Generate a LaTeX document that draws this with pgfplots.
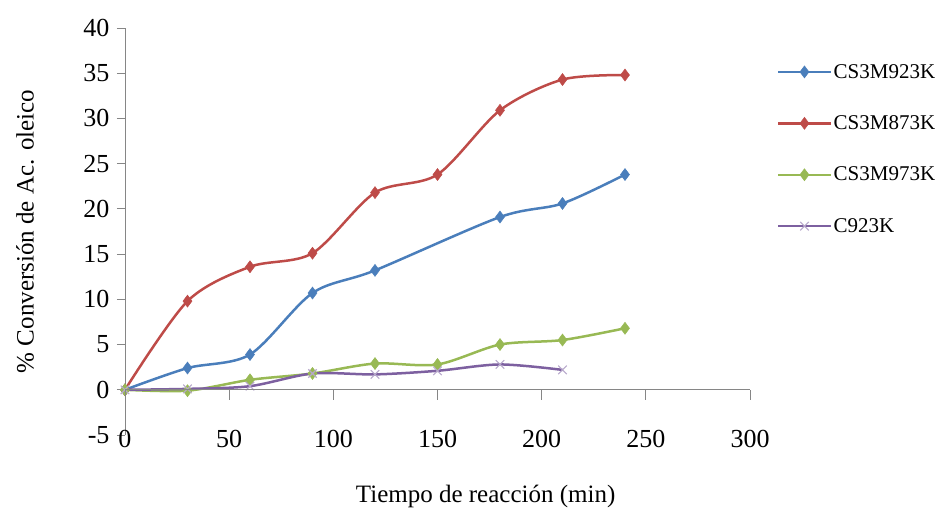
\documentclass[border=0pt]{standalone}
\usepackage{pgfplots}
\pgfplotsset{compat=1.18}
\usepackage{fontspec}
\setmainfont{Liberation Serif}
\definecolor{cblue}{HTML}{4A7EBB}
\definecolor{cred}{HTML}{BE4B48}
\definecolor{cgreen}{HTML}{98B954}
\definecolor{cpurple}{HTML}{7D60A0}
\definecolor{axisgray}{HTML}{868686}
\begin{document}
\begin{tikzpicture}
\useasboundingbox (-125pt,-76pt) rectangle (817pt,435pt);
\begin{axis}[
  scale only axis, width=625pt, height=407pt,
  at={(0pt,0pt)}, anchor=south west,
  xmin=0, xmax=300, ymin=-5, ymax=40,
  axis y line*=left, axis x line*=bottom,
  x axis line style={draw=none},
  y axis line style={draw=axisgray, line width=0.8pt},
  xtick={0,50,...,300}, ytick={-5,0,...,40},
  xtick style={draw=none},
  ytick style={draw=axisgray, line width=0.8pt},
  tick align=outside, major tick length=8pt,
  /pgf/number format/assume math mode=true,
  ticklabel style={font=\fontsize{26}{26}\selectfont},
  xticklabel style={anchor=center, yshift=4pt},
  yticklabel style={xshift=-4pt},
  xlabel={Tiempo de reacción (min)},
  ylabel={\% Conversión de Ac. oleico},
  label style={font=\fontsize{25}{25}\selectfont},
  xlabel style={at={(axis description cs:0.577,0)}, anchor=north, inner sep=0pt, yshift=-50pt},
  ylabel style={at={(axis description cs:-0.16,0.5)}, anchor=center, inner sep=0pt},
  legend style={at={(1,1)}, anchor=north west, xshift=27pt, yshift=-34pt, draw=none,
    font=\fontsize{21}{21}\selectfont, row sep=32pt, inner sep=0pt},
  legend cell align=left,
  legend image code/.code={\draw[mark repeat=2,mark phase=2] plot coordinates {(0pt,0pt) (26pt,0pt) (52pt,0pt)};},
  every axis plot/.append style={line width=2.5pt, smooth, tension=0.5},
]
\addplot[cblue, mark=diamond*, mark size=6pt, mark options={line width=0.5pt}] coordinates {
(0,0) (30,2.4) (60,3.9) (90,10.7) (120,13.2) (180,19.1) (210,20.6) (240,23.8)};
\addlegendentry{CS3M923K}
\addplot[cred, mark=diamond*, mark size=6pt, mark options={line width=0.5pt}] coordinates {
(0,0) (30,9.8) (60,13.6) (90,15.1) (120,21.8) (150,23.8) (180,30.9) (210,34.3) (240,34.8)};
\addlegendentry{CS3M873K}
\addplot[cgreen, mark=diamond*, mark size=6pt, mark options={line width=0.5pt}] coordinates {
(0,0) (30,-0.1) (60,1.1) (90,1.8) (120,2.9) (150,2.8) (180,5.0) (210,5.5) (240,6.8)};
\addlegendentry{CS3M973K}
\addplot[cpurple, mark=x, mark size=6pt, mark options={draw=cpurple!55, line width=1.1pt}] coordinates {
(0,0) (30,0.1) (60,0.4) (90,1.8) (120,1.7) (150,2.1) (180,2.8) (210,2.2)};
\addlegendentry{C923K}
\end{axis}
\begin{axis}[
  scale only axis, width=625pt, height=407pt,
  at={(0pt,0pt)}, anchor=south west,
  xmin=0, xmax=300, ymin=-5, ymax=40,
  axis x line*=middle, axis y line=none,
  x axis line style={draw=axisgray, line width=0.8pt},
  xtick={0,50,...,300}, xticklabels={}, ytick=\empty,
  xtick style={draw=axisgray, line width=0.8pt},
  tick align=outside, major tick length=10pt,
]
\end{axis}
\end{tikzpicture}
\end{document}
